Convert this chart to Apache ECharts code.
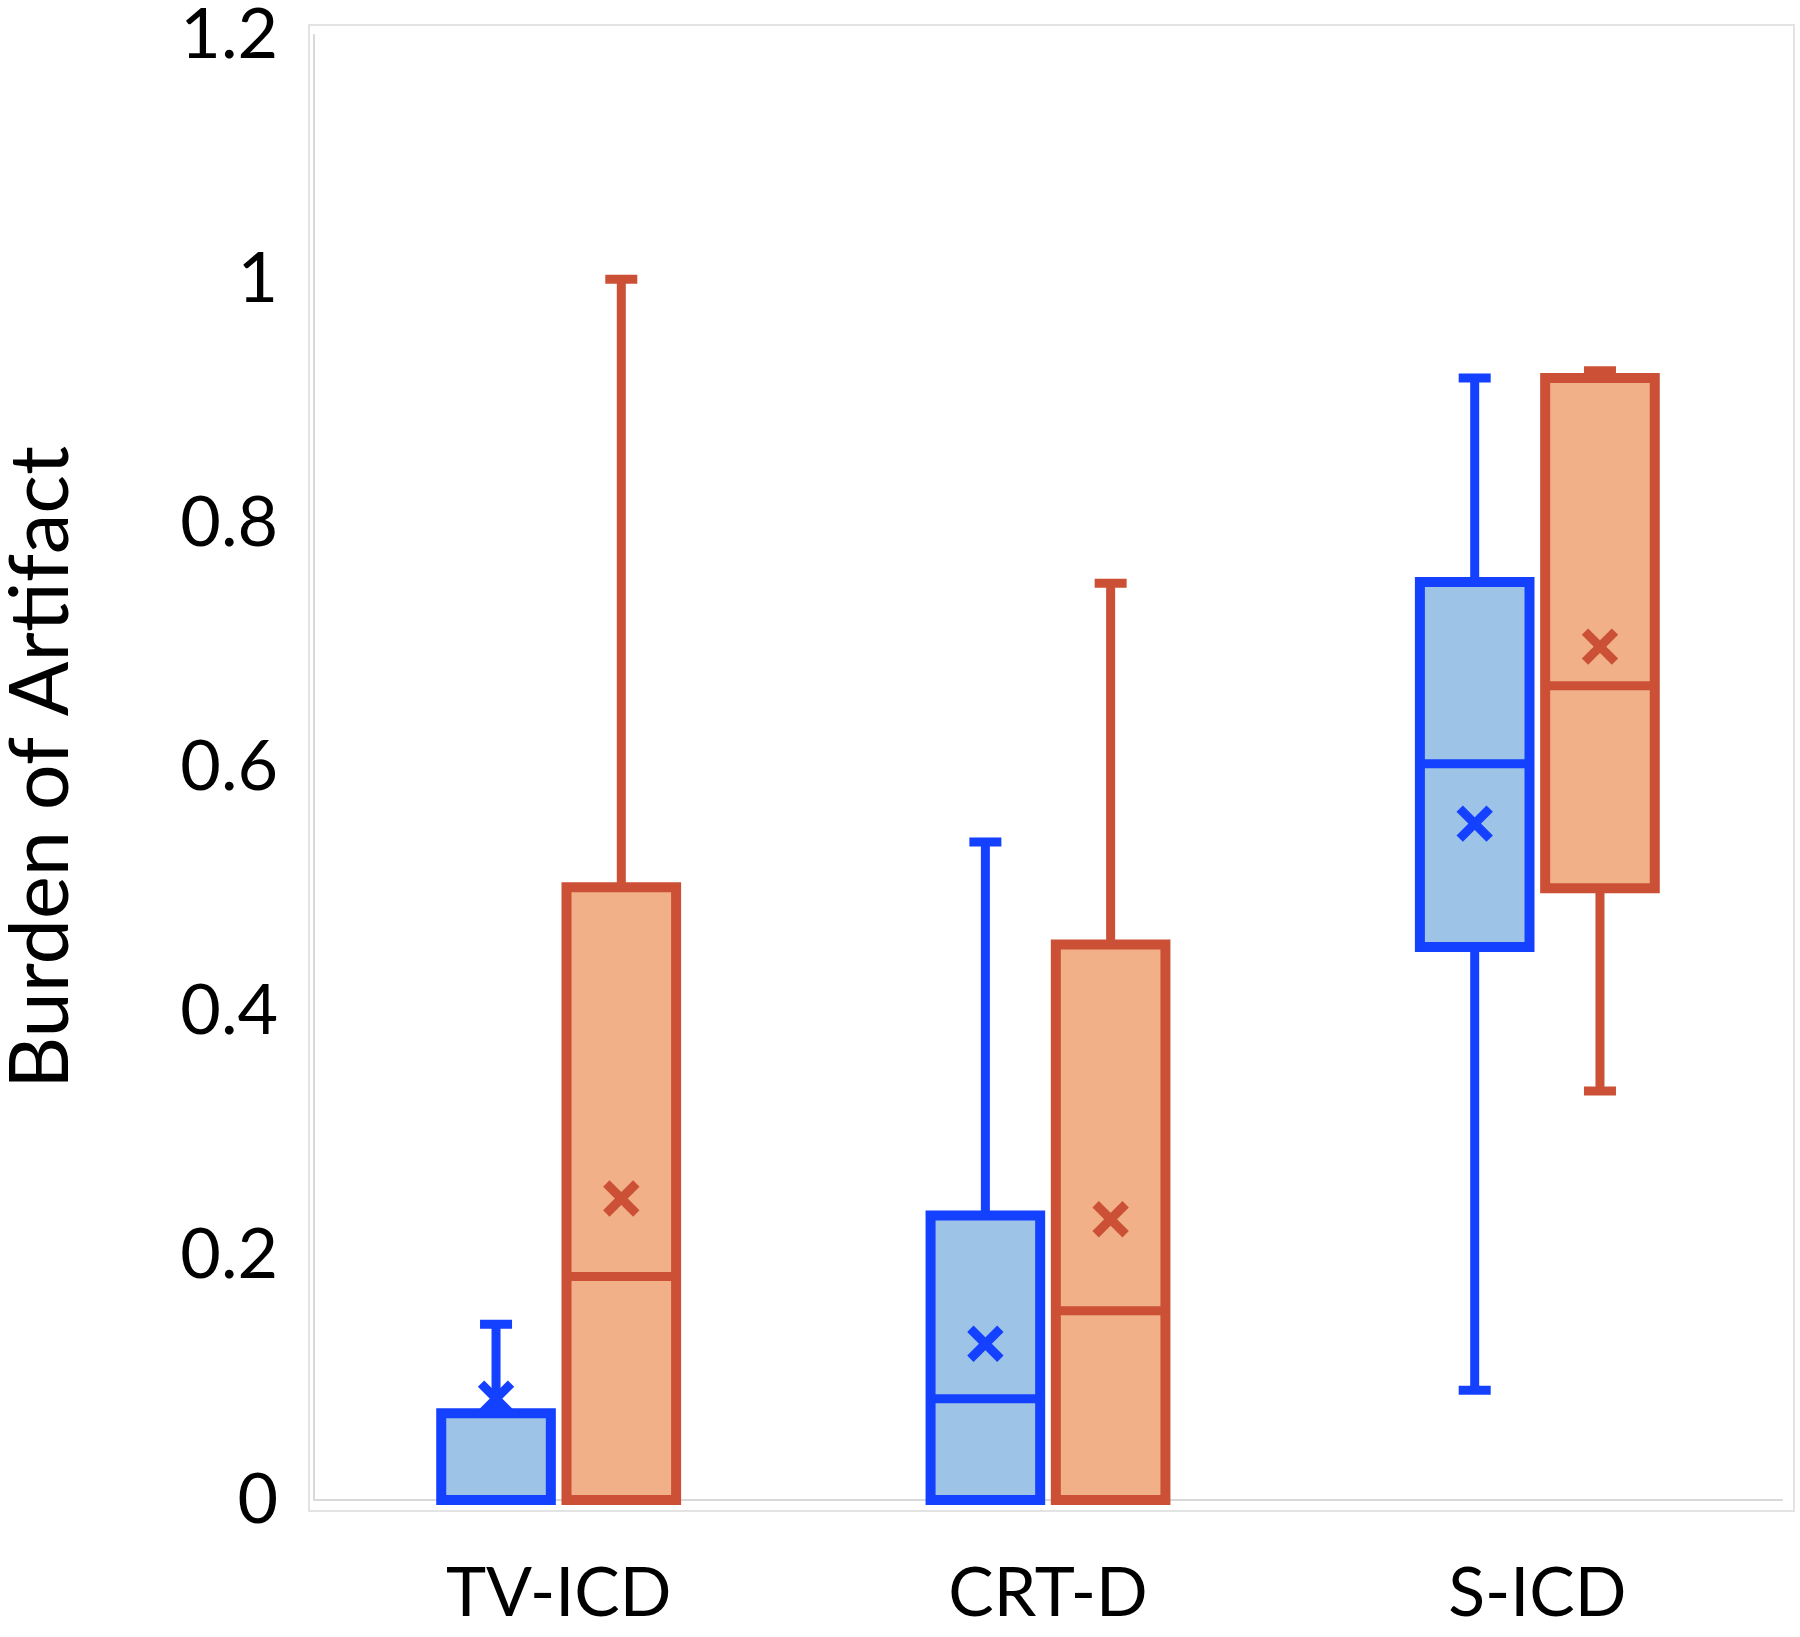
<!DOCTYPE html>
<html>
<head>
<meta charset="utf-8">
<title>Burden of Artifact</title>
<script src="https://cdn.jsdelivr.net/npm/echarts@6/dist/echarts.min.js"></script>
<style>
  html, body { margin: 0; padding: 0; background: #fff; }
  #main { width: 1800px; height: 1637px; }
</style>
</head>
<body>
<div id="main"></div>
<script>
// categories on the x axis
const categories = ['TV-ICD', 'CRT-D', 'S-ICD']
const yTicks = [0, 0.2, 0.4, 0.6, 0.8, 1, 1.2]

// blue group: min, q1, median, q3, max, mean
const blueMin = [0, 0, 0.09]
const blueQ1 = [0, 0, 0.453]
const blueMedian = [0, 0.083, 0.603]
const blueQ3 = [0.071, 0.233, 0.752]
const blueMax = [0.144, 0.539, 0.919]
const blueMean = [0.083, 0.128, 0.554]

// orange group
const orangeMin = [0, 0, 0.335]
const orangeQ1 = [0, 0, 0.501]
const orangeMedian = [0.183, 0.155, 0.667]
const orangeQ3 = [0.502, 0.455, 0.919]
const orangeMax = [1.0, 0.751, 0.925]
const orangeMean = [0.247, 0.23, 0.699]

const FONT = 'Lato'

function buildRows (mins, q1s, meds, q3s, maxs, means) {
  return categories.map((c, i) => [i, mins[i], q1s[i], meds[i], q3s[i], maxs[i], means[i]])
}

// draws one box with whiskers and mean cross
function boxRenderer (stroke, fill, side) {
  return function (params, api) {
    const idx = api.value(0)
    const band = api.size([1, 0])[0]
    const cx = api.coord([idx, 0])[0] + side * band * 0.128
    const half = band * 0.112
    const capHalf = 16
    const y = v => api.coord([idx, v])[1]
    const yMin = y(api.value(1))
    const yQ1 = y(api.value(2))
    const yMed = y(api.value(3))
    const yQ3 = y(api.value(4))
    const yMax = y(api.value(5))
    const yMean = y(api.value(6))
    const lineStyle = { stroke: stroke, lineWidth: 9 }
    const children = []
    // upper whisker
    if (yMax < yQ3) {
      children.push({ type: 'line', shape: { x1: cx, y1: yQ3, x2: cx, y2: yMax }, style: lineStyle })
      children.push({ type: 'line', shape: { x1: cx - capHalf, y1: yMax, x2: cx + capHalf, y2: yMax }, style: lineStyle })
    }
    // lower whisker
    if (yMin > yQ1) {
      children.push({ type: 'line', shape: { x1: cx, y1: yQ1, x2: cx, y2: yMin }, style: lineStyle })
      children.push({ type: 'line', shape: { x1: cx - capHalf, y1: yMin, x2: cx + capHalf, y2: yMin }, style: lineStyle })
    }
    // box
    children.push({
      type: 'rect',
      shape: { x: cx - half, y: yQ3, width: half * 2, height: yQ1 - yQ3 },
      style: { fill: fill, stroke: stroke, lineWidth: 10 }
    })
    // median
    children.push({ type: 'line', shape: { x1: cx - half, y1: yMed, x2: cx + half, y2: yMed }, style: lineStyle })
    // mean cross
    const m = 15
    children.push({ type: 'line', shape: { x1: cx - m, y1: yMean - m, x2: cx + m, y2: yMean + m }, style: { stroke: stroke, lineWidth: 9 } })
    children.push({ type: 'line', shape: { x1: cx - m, y1: yMean + m, x2: cx + m, y2: yMean - m }, style: { stroke: stroke, lineWidth: 9 } })
    return { type: 'group', children: children }
  }
}

const chart = echarts.init(document.getElementById('main'))

const option = {
  backgroundColor: '#fff',
  animation: false,
  graphic: [
    {
      type: 'rect',
      shape: { x: 309, y: 25, width: 1485, height: 1486 },
      style: { fill: 'none', stroke: '#e3e3e3', lineWidth: 2 },
      silent: true
    }
  ],
  grid: {
    left: 314,
    right: 18,
    top: 35,
    bottom: 137,
    outerBoundsMode: 'none'
  },
  xAxis: {
    type: 'category',
    data: categories,
    axisTick: { show: false },
    axisLine: { lineStyle: { color: '#d9d9d9', width: 2 } },
    axisLabel: { color: '#000', fontSize: 68, fontFamily: FONT, margin: 60 }
  },
  yAxis: {
    type: 'value',
    min: yTicks[0],
    max: yTicks[yTicks.length - 1],
    interval: 0.2,
    name: 'Burden of Artifact',
    nameLocation: 'middle',
    nameGap: 232,
    nameTextStyle: { color: '#000', fontSize: 81, fontFamily: FONT },
    axisLine: { show: true, lineStyle: { color: '#d9d9d9', width: 2 } },
    axisTick: { show: false },
    splitLine: { show: false },
    axisLabel: { color: '#000', fontSize: 70, fontFamily: FONT, margin: 36 }
  },
  series: [
    {
      type: 'custom',
      name: 'blue',
      clip: false,
      renderItem: boxRenderer('#1440ff', '#9dc3e6', -1),
      encode: { x: 0, y: [1, 2, 3, 4, 5, 6] },
      data: buildRows(blueMin, blueQ1, blueMedian, blueQ3, blueMax, blueMean)
    },
    {
      type: 'custom',
      name: 'orange',
      clip: false,
      renderItem: boxRenderer('#cb5036', '#f1b087', 1),
      encode: { x: 0, y: [1, 2, 3, 4, 5, 6] },
      data: buildRows(orangeMin, orangeQ1, orangeMedian, orangeQ3, orangeMax, orangeMean)
    }
  ]
}

chart.setOption(option)
</script>
</body>
</html>
